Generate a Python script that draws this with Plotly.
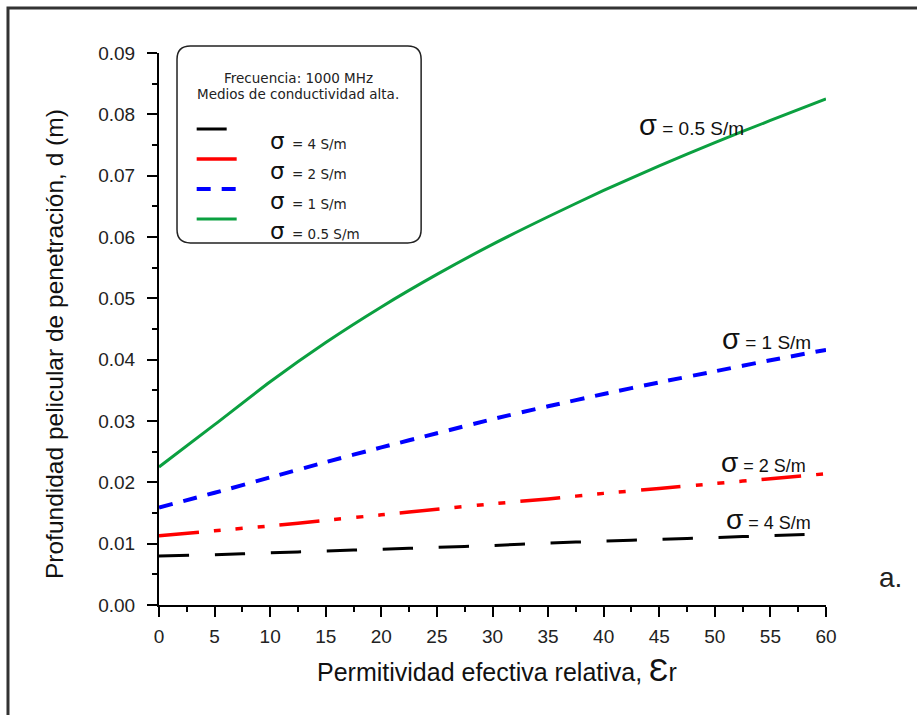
import plotly.graph_objects as go

# ---- data ----
eps_r = [0, 5, 10, 15, 20, 25, 30, 35, 40, 45, 50, 55, 60]
d_sigma4 = [0.0080, 0.0082, 0.0085, 0.0088, 0.0091, 0.0094, 0.0097, 0.0101, 0.0104, 0.0107, 0.0110, 0.0113, 0.0116]
d_sigma2 = [0.0113, 0.0121, 0.0129, 0.0138, 0.0147, 0.0156, 0.0165, 0.0173, 0.0182, 0.0190, 0.0198, 0.0206, 0.0214]
d_sigma1 = [0.0159, 0.0183, 0.0208, 0.0233, 0.0257, 0.0280, 0.0303, 0.0324, 0.0344, 0.0363, 0.0381, 0.0399, 0.0416]
d_sigma05 = [0.0225, 0.0294, 0.0364, 0.0428, 0.0486, 0.0539, 0.0588, 0.0633, 0.0676, 0.0716, 0.0754, 0.0790, 0.0825]

series_names = ["σ = 4 S/m", "σ = 2 S/m", "σ = 1 S/m", "σ = 0.5 S/m"]
x_ticks = [0, 5, 10, 15, 20, 25, 30, 35, 40, 45, 50, 55, 60]
y_ticks = [0.00, 0.01, 0.02, 0.03, 0.04, 0.05, 0.06, 0.07, 0.08, 0.09]

FONT = "Liberation Sans, Arial, sans-serif"
WIDE = "DejaVu Sans, Verdana, sans-serif"

styles = [
    dict(color="black", width=3, dash="30px,26px"),
    dict(color="#ff0000", width=3.5, dash="40px,15px,7px,15px,7px,15px,7px,15px"),
    dict(color="#0000ff", width=4, dash="14px,11px"),
    dict(color="#0ba040", width=3, dash="solid"),
]
ys = [d_sigma4, d_sigma2, d_sigma1, d_sigma05]

fig = go.Figure()
for name, y, st in zip(series_names, ys, styles):
    fig.add_trace(go.Scatter(
        x=eps_r, y=y, mode="lines", name="&nbsp;", legendgroup=name,
        hovertext=name, hoverinfo="x+y+text",
        line=dict(color=st["color"], width=st["width"], dash=st["dash"], shape="spline", smoothing=0.6),
    ))

# legend labels (placed beside the legend line samples, slightly below them)
row_step = 30 / 552
for i, name in enumerate(series_names):
    sym, rest = name.split(" ", 1)
    fig.add_annotation(x=0.1634, y=0.8406 - i * row_step, xref="paper", yref="paper",
                       text=sym, showarrow=False, xanchor="left", yanchor="middle",
                       font=dict(family=WIDE, size=23, color="#111"))
    fig.add_annotation(x=0.1964, y=0.8346 - i * row_step, xref="paper", yref="paper",
                       text=rest, showarrow=False, xanchor="left", yanchor="middle",
                       font=dict(family=WIDE, size=13.5, color="#222"))

axis_common = dict(
    showline=True, linecolor="black", linewidth=2,
    ticks="outside", ticklen=10, tickwidth=2, tickcolor="black",
    showgrid=False, zeroline=False,
    tickfont=dict(family=FONT, size=19, color="#222"),
)

fig.update_xaxes(
    range=[0, 60], tickvals=x_ticks, ticktext=[str(v) for v in x_ticks],
    minor=dict(ticks="outside", ticklen=5, tickwidth=2, tickcolor="black", dtick=2.5, tick0=0),
    ticklabelstandoff=3,
    **axis_common,
)
fig.update_yaxes(
    range=[0, 0.09], tickvals=y_ticks, ticktext=[f"{v:.2f}" for v in y_ticks],
    minor=dict(ticks="outside", ticklen=5, tickwidth=2, tickcolor="black", dtick=0.005, tick0=0),
    ticklabelstandoff=8,
    **axis_common,
)

# axis titles
fig.add_annotation(x=-0.1574, y=0.4728, xref="paper", yref="paper", textangle=-90,
                   text="Profundidad pelicular de penetración, d (m)", showarrow=False,
                   xanchor="center", yanchor="middle",
                   font=dict(family=FONT, size=24.5, color="#111"))
fig.add_annotation(x=0.506, y=-0.118, xref="paper", yref="paper",
                   text="Permitividad efectiva relativa, <span style='font-size:32px'>Ɛ</span>r",
                   showarrow=False, xanchor="center", yanchor="middle",
                   font=dict(family=FONT, size=25, color="#111"))

annotations = [
    dict(x=47.86, y=0.0783, text="<span style='font-size:29px'>σ</span> = 0.5 S/m", size=19),
    dict(x=54.65, y=0.0434, text="<span style='font-size:29px'>σ</span> = 1 S/m", size=19),
    dict(x=54.4, y=0.0232, text="<span style='font-size:28px'>σ</span> = 2 S/m", size=18),
    dict(x=54.8, y=0.0139, text="<span style='font-size:28px'>σ</span> = 4 S/m", size=18),
]
for a in annotations:
    fig.add_annotation(x=a["x"], y=a["y"], xref="x", yref="y", text=a["text"], showarrow=False,
                       xanchor="center", yanchor="middle",
                       font=dict(family=FONT, size=a["size"], color="#111"))

fig.add_annotation(x=1.096, y=0.0507, xref="paper", yref="paper", text="a.", showarrow=False,
                   xanchor="center", yanchor="middle",
                   font=dict(family=FONT, size=28, color="#222"))

# legend header text
for txt, yy in [("Frecuencia: 1000 MHz", 0.9547), ("Medios de conductividad alta.", 0.9257)]:
    fig.add_annotation(x=0.2084, y=yy, xref="paper", yref="paper", text=txt,
                       showarrow=False, xanchor="center", yanchor="middle",
                       font=dict(family=WIDE, size=13.5, color="#222"))

# rounded legend box
x0, x1, y0, y1, r = 0.027, 0.393, 0.656, 1.0127, 0.02
ry = r * 667 / 552
path = (f"M{x0 + r},{y1} L{x1 - r},{y1} Q{x1},{y1} {x1},{y1 - ry} "
        f"L{x1},{y0 + ry} Q{x1},{y0} {x1 - r},{y0} L{x0 + r},{y0} "
        f"Q{x0},{y0} {x0},{y0 + ry} L{x0},{y1 - ry} Q{x0},{y1} {x0 + r},{y1} Z")
fig.add_shape(type="path", path=path, xref="paper", yref="paper",
              line=dict(color="#222", width=1.5), layer="below")

# outer frame
fig.add_shape(type="rect", xref="paper", yref="paper", x0=-0.2264, x1=1.3, y0=-0.4, y1=1.0815,
              line=dict(color="#333", width=3), layer="below")

fig.update_layout(
    width=917, height=715,
    margin=dict(l=159, r=91, t=53, b=110),
    paper_bgcolor="white", plot_bgcolor="white",
    font=dict(family=FONT, color="#222"),
    showlegend=True,
    legend=dict(
        x=0.049, y=0.8984, xanchor="left", yanchor="top",
        bgcolor="rgba(0,0,0,0)", borderwidth=0,
        font=dict(family=WIDE, size=20.77, color="#222"),
        itemwidth=40, valign="middle", tracegroupgap=0,
        itemclick=False, itemdoubleclick=False,
    ),
)

fig.write_html("out.html")
